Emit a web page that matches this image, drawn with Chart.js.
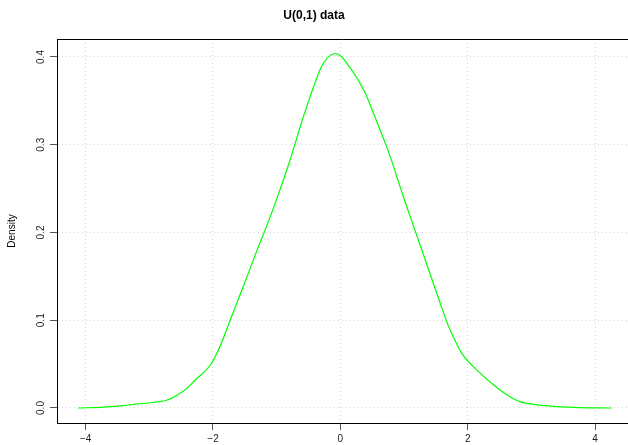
<!DOCTYPE html>
<html>
<head>
<meta charset="utf-8">
<script src="https://cdn.jsdelivr.net/npm/chart.js@4/dist/chart.umd.min.js"></script>
<style>
  html, body { margin: 0; padding: 0; background: #fff; overflow: hidden; }
  canvas { display: block; }
</style>
</head>
<body>
<canvas id="densityChart" width="628" height="445"></canvas>
<script>
// values
const densityX = [-4.12, -3.71, -3.40, -3.19, -2.88, -2.72, -2.56, -2.41, -2.28, -2.04,
  -1.88, -1.73, -1.49, -1.28, -1.18, -0.99, -0.81, -0.58, -0.42, -0.31, -0.21, -0.07,
  0.16, 0.37, 0.52, 0.71, 0.80, 0.97, 1.18, 1.39, 1.57, 1.70, 1.78, 1.91, 2.20, 2.41,
  2.62, 2.82, 3.03, 3.35, 3.66, 4.26];
const densityY = [0.000, 0.001, 0.0027, 0.0046, 0.0068, 0.0091, 0.0148, 0.0224, 0.0319, 0.049,
  0.0718, 0.100, 0.145, 0.185, 0.203, 0.240, 0.278, 0.332, 0.366, 0.387, 0.3985, 0.404,
  0.387, 0.362, 0.336, 0.301, 0.283, 0.245, 0.201, 0.157, 0.119, 0.093, 0.080, 0.062, 0.0395, 0.0262,
  0.0148, 0.0072, 0.0042, 0.0019, 0.0008, 0.000];
const xTicks = [-4, -2, 0, 2, 4];
const yTicks = [0, 0.1, 0.2, 0.3, 0.4];

const fontFamily = '"Liberation Sans", Arial, Helvetica, sans-serif';
const points = densityX.map((x, i) => ({ x: x, y: densityY[i] }));

// top edge of the plot box (left and bottom come from the axis borders)
const boxPlugin = {
  id: 'plotBox',
  afterDraw(chart) {
    const a = chart.chartArea;
    const c = chart.ctx;
    c.save();
    c.strokeStyle = '#000';
    c.lineWidth = 1;
    c.beginPath();
    c.moveTo(a.left, Math.round(a.top) + 0.5);
    c.lineTo(a.right, Math.round(a.top) + 0.5);
    c.stroke();
    c.restore();
  }
};

const gridOpts = {
  color: '#d3d3d3',
  drawTicks: true,
  tickLength: 7,
  tickColor: '#555',
  tickBorderDash: [],
  tickWidth: 1
};

new Chart(document.getElementById('densityChart').getContext('2d'), {
  type: 'scatter',
  data: {
    datasets: [{
      data: points,
      showLine: true,
      borderColor: '#00ff00',
      borderWidth: 1.2,
      pointRadius: 0,
      cubicInterpolationMode: 'monotone',
      fill: false
    }]
  },
  options: {
    responsive: false,
    devicePixelRatio: 1,
    animation: false,
    layout: { padding: { left: 0, right: 0, top: 0, bottom: 0 } },
    plugins: {
      legend: { display: false },
      tooltip: { enabled: false },
      title: {
        display: true,
        text: 'U(0,1) data',
        color: '#000',
        font: { family: fontFamily, size: 12, weight: 'bold' },
        padding: { top: 8, bottom: 16.6 }
      }
    },
    scales: {
      x: {
        type: 'linear',
        min: -4.45,
        max: 4.518,
        afterFit: s => { s.height = 22; },
        afterBuildTicks: s => { s.ticks = xTicks.map(v => ({ value: v })); },
        border: { display: true, color: '#000', width: 1, dash: [1, 3] },
        grid: gridOpts,
        ticks: {
          color: '#222',
          padding: 3,
          maxRotation: 0,
          font: { family: fontFamily, size: 10 },
          callback: v => String(v).replace('-', '\u2212')
        }
      },
      y: {
        type: 'linear',
        min: -0.0171,
        max: 0.4205,
        afterFit: s => { s.width = 57; },
        afterBuildTicks: s => { s.ticks = yTicks.map(v => ({ value: v })); },
        border: { display: true, color: '#000', width: 1, dash: [1, 3] },
        grid: gridOpts,
        title: {
          display: true,
          text: 'Density',
          color: '#000',
          font: { family: fontFamily, size: 10 },
          padding: { top: 6, bottom: 0 }
        },
        ticks: {
          color: '#222',
          padding: 2,
          minRotation: 90,
          maxRotation: 90,
          crossAlign: 'center',
          font: { family: fontFamily, size: 10 },
          callback: v => v.toFixed(1)
        }
      }
    }
  },
  plugins: [boxPlugin]
});
</script>
</body>
</html>
